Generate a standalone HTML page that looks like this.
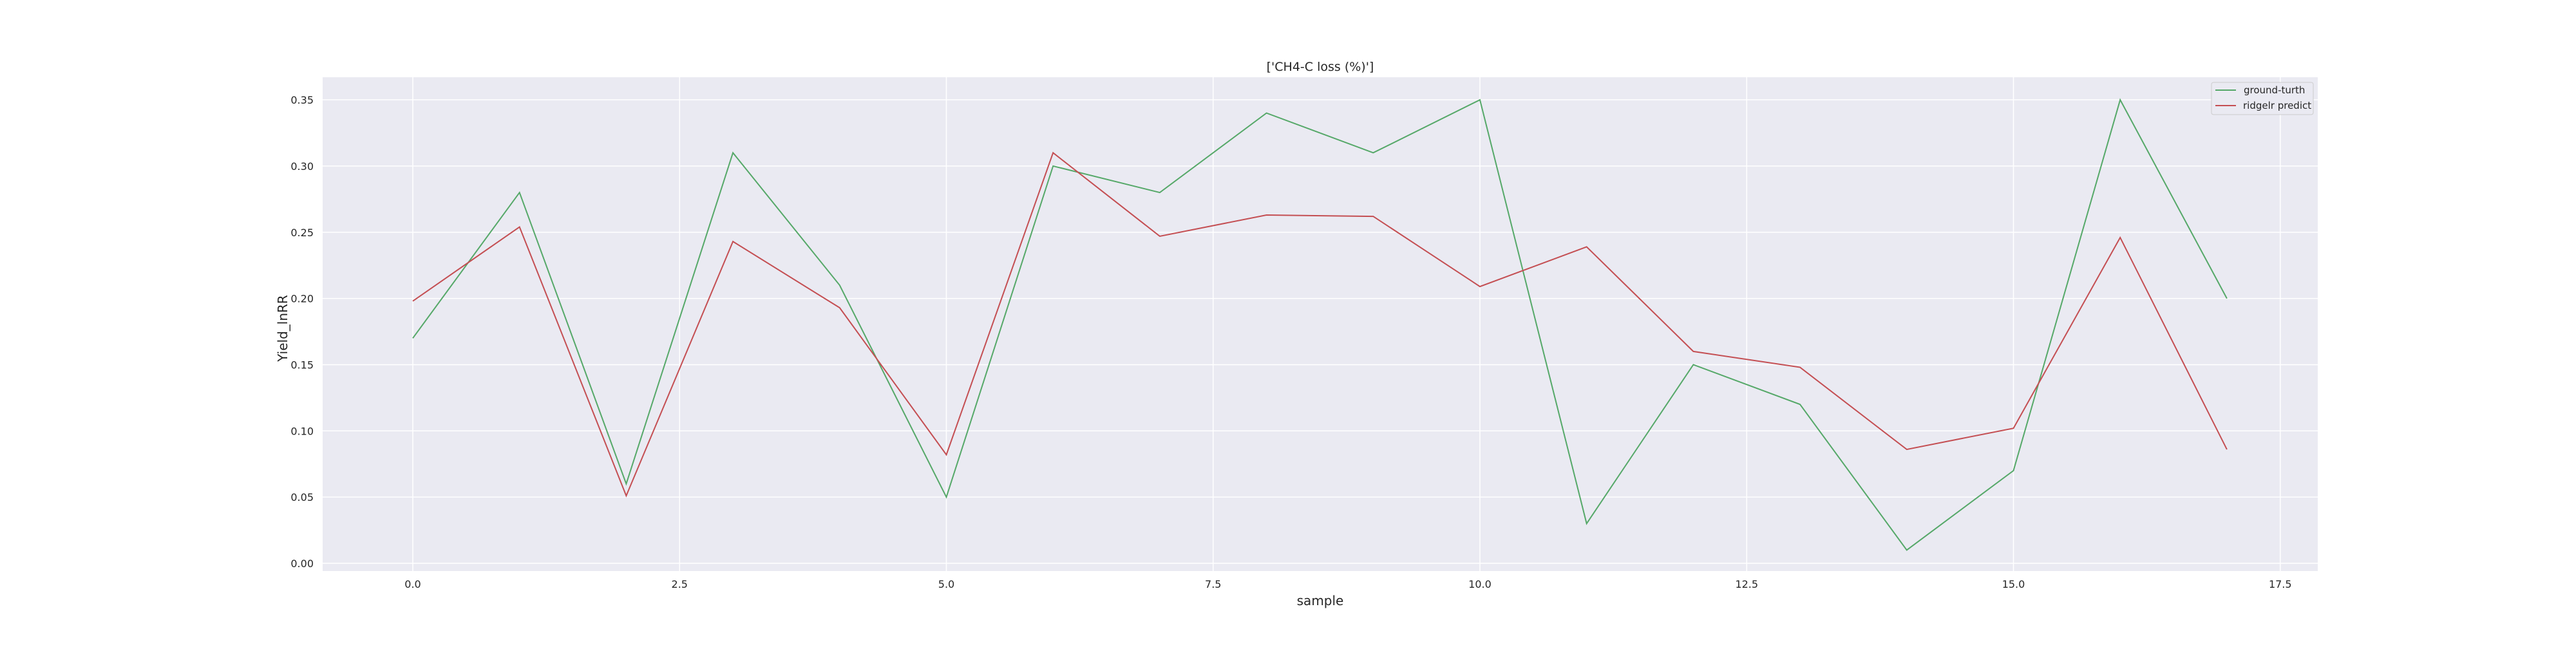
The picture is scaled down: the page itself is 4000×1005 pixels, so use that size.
<!DOCTYPE html>
<html><head><meta charset="utf-8"><style>
body{margin:0;background:#fff;}
svg text{font-family:"DejaVu Sans","Liberation Sans",sans-serif;fill:#262626;}
</style></head><body>
<svg width="4000" height="1000" viewBox="0 0 4000 1000">
<rect x="501" y="120" width="3098" height="767" fill="#eaeaf2"/>
<g id="grid"></g>
<g id="ticks"></g>
<g id="series"></g>
<text x="2050" y="110" text-anchor="middle" font-size="19">['CH4-C loss (%)']</text>
<text x="2050" y="940" text-anchor="middle" font-size="20">sample</text>
<text x="446" y="510" text-anchor="middle" font-size="20" transform="rotate(-90 446 510)">Yield_lnRR</text>
<g>
<rect x="3434" y="128" width="158" height="50" rx="3" fill="#eaeaf2" stroke="#cccccc" stroke-width="1"/>
<line x1="3440" y1="140" x2="3472" y2="140" stroke="#55a868" stroke-width="2"/>
<text x="3484" y="145" font-size="15">ground-turth</text>
<line x1="3440" y1="164" x2="3472" y2="164" stroke="#c44e52" stroke-width="2"/>
<text x="3483" y="169" font-size="15">ridgelr predict</text>
</g>
</svg>
<script>
const xTicks=[0,2.5,5,7.5,10,12.5,15,17.5];
const yTicks=[0,0.05,0.10,0.15,0.20,0.25,0.30,0.35];
const groundTruth=[0.17,0.28,0.06,0.31,0.21,0.05,0.30,0.28,0.34,0.31,0.35,0.03,0.15,0.12,0.01,0.07,0.35,0.20];
const predict=[0.198,0.254,0.051,0.243,0.193,0.082,0.310,0.247,0.263,0.262,0.209,0.239,0.160,0.148,0.086,0.102,0.246,0.086];
const NS='http://www.w3.org/2000/svg';
function xs(v){return 641+v*165.7;}
function ys(v){return 875-v*2057;}
const grid=document.getElementById('grid'),ticks=document.getElementById('ticks'),ser=document.getElementById('series');
xTicks.forEach(t=>{
 const l=document.createElementNS(NS,'line');
 l.setAttribute('x1',xs(t));l.setAttribute('x2',xs(t));l.setAttribute('y1',120);l.setAttribute('y2',887);
 l.setAttribute('stroke','#fff');l.setAttribute('stroke-width','1.5');
 
 
 grid.appendChild(l);
 const tx=document.createElementNS(NS,'text');
 tx.setAttribute('x',xs(t));tx.setAttribute('y',913);tx.setAttribute('text-anchor','middle');tx.setAttribute('font-size','16');
 tx.textContent=t.toFixed(1);
 
 
 ticks.appendChild(tx);
});
yTicks.forEach(t=>{
 const l=document.createElementNS(NS,'line');
 l.setAttribute('x1',501);l.setAttribute('x2',3599);l.setAttribute('y1',ys(t));l.setAttribute('y2',ys(t));
 l.setAttribute('stroke','#fff');l.setAttribute('stroke-width','1.5');
 
 
 grid.appendChild(l);
 const tx=document.createElementNS(NS,'text');
 tx.setAttribute('x',487);tx.setAttribute('y',ys(t)+6);tx.setAttribute('text-anchor','end');tx.setAttribute('font-size','16');
 tx.textContent=t.toFixed(2);
 
 
 ticks.appendChild(tx);
});
function line(data,color,name){
 const p=document.createElementNS(NS,'polyline');
 p.setAttribute('points',data.map((v,i)=>xs(i)+','+ys(v)).join(' '));
 p.setAttribute('fill','none');p.setAttribute('stroke',color);p.setAttribute('stroke-width','2');
 
 
 ser.appendChild(p);
}
line(groundTruth,'#55a868','ground-truth-line');
line(predict,'#c44e52','predict-line');
</script>
</body></html>
